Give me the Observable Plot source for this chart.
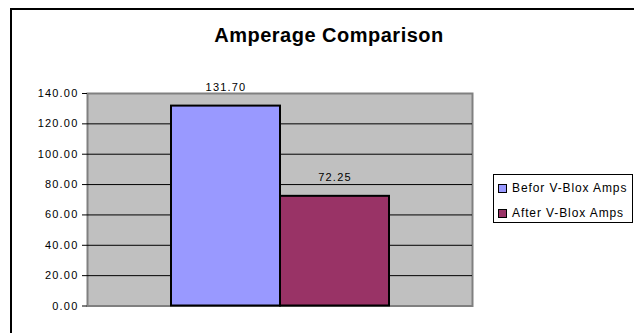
<!DOCTYPE html>
<html>
<head>
<meta charset="utf-8">
<script src="https://cdn.jsdelivr.net/npm/d3@7"></script>
<script src="https://cdn.jsdelivr.net/npm/@observablehq/plot@0.6"></script>
<style>
  html, body { margin: 0; padding: 0; background: #fff; overflow: hidden; }
  body { width: 634px; height: 333px; position: relative; font-family: "Liberation Sans", Arial, sans-serif; }
  #border { position: absolute; left: 10px; top: 8px; width: 700px; height: 400px; border: 2px solid #000; box-sizing: border-box; }
  #chart { position: absolute; left: 0; top: 0; }
  #chart svg text { letter-spacing: 1.2px; }
  #title { position: absolute; left: 129px; width: 400px; top: 25px; text-align: center; font-weight: bold; font-size: 20px; line-height: 20px; letter-spacing: 0.5px; color: #000; white-space: nowrap; }
  #legend { position: absolute; left: 493px; top: 174px; width: 140px; height: 49px; border: 1px solid #000; box-sizing: border-box; background: #fff; }
  .row { position: absolute; left: 4px; height: 12px; font-size: 12px; line-height: 12px; letter-spacing: 0.9px; color: #000; white-space: nowrap; }
  .sw { position: absolute; left: 0; top: 2px; width: 9px; height: 9px; border: 1.5px solid #000; box-sizing: border-box; }
  .lbl { position: absolute; left: 14px; top: 0; }
</style>
</head>
<body>
<div id="border"></div>
<div id="chart"></div>
<div id="title"></div>
<div id="legend"></div>
<script>
const title = "Amperage Comparison";
const categories = ["Befor V-Blox Amps", "After V-Blox Amps"];
const values = [131.70, 72.25];
const colors = ["#9999FF", "#993366"];
const yTicks = [0, 20, 40, 60, 80, 100, 120, 140];

const data = categories.map((c, i) => ({series: c, value: values[i]}));
const fmt = d3.format(".2f");

const chart = Plot.plot({
  width: 634,
  height: 333,
  marginLeft: 87,
  marginRight: 162,
  marginTop: 93,
  marginBottom: 27.5,
  x: {domain: categories, paddingInner: 0, paddingOuter: 0.758, axis: null},
  y: {domain: [0, 140], axis: null},
  color: {domain: categories, range: colors},
  style: {fontFamily: "'Liberation Sans', Arial, sans-serif", fontSize: "11px", color: "#000", background: "transparent", overflow: "visible"},
  marks: [
    Plot.frame({fill: "#c0c0c0", stroke: "#808080", strokeWidth: 2}),
    Plot.gridY(yTicks.slice(1, -1), {stroke: "#000", strokeOpacity: 1, strokeWidth: 1}),
    Plot.barY(data, {x: "series", y: "value", fill: "series", stroke: "#000", strokeWidth: 2}),
    Plot.axisY({ticks: yTicks, tickFormat: fmt, tickSize: 5, tickPadding: 4, label: null, stroke: "#000", strokeOpacity: 1, fill: "#000", fontSize: 11}),
    Plot.text(data, {x: "series", y: "value", text: d => fmt(d.value), dy: -18.5, fontSize: 11, fill: "#000"})
  ]
});
document.getElementById("chart").appendChild(chart);

document.getElementById("title").textContent = title;

const legend = document.getElementById("legend");
categories.forEach((c, i) => {
  const row = document.createElement("div");
  row.className = "row";
  row.style.top = (7 + i * 25) + "px";
  const sw = document.createElement("div");
  sw.className = "sw";
  sw.style.background = colors[i];
  const lbl = document.createElement("div");
  lbl.className = "lbl";
  lbl.textContent = c;
  row.appendChild(sw);
  row.appendChild(lbl);
  legend.appendChild(row);
});
</script>
</body>
</html>
